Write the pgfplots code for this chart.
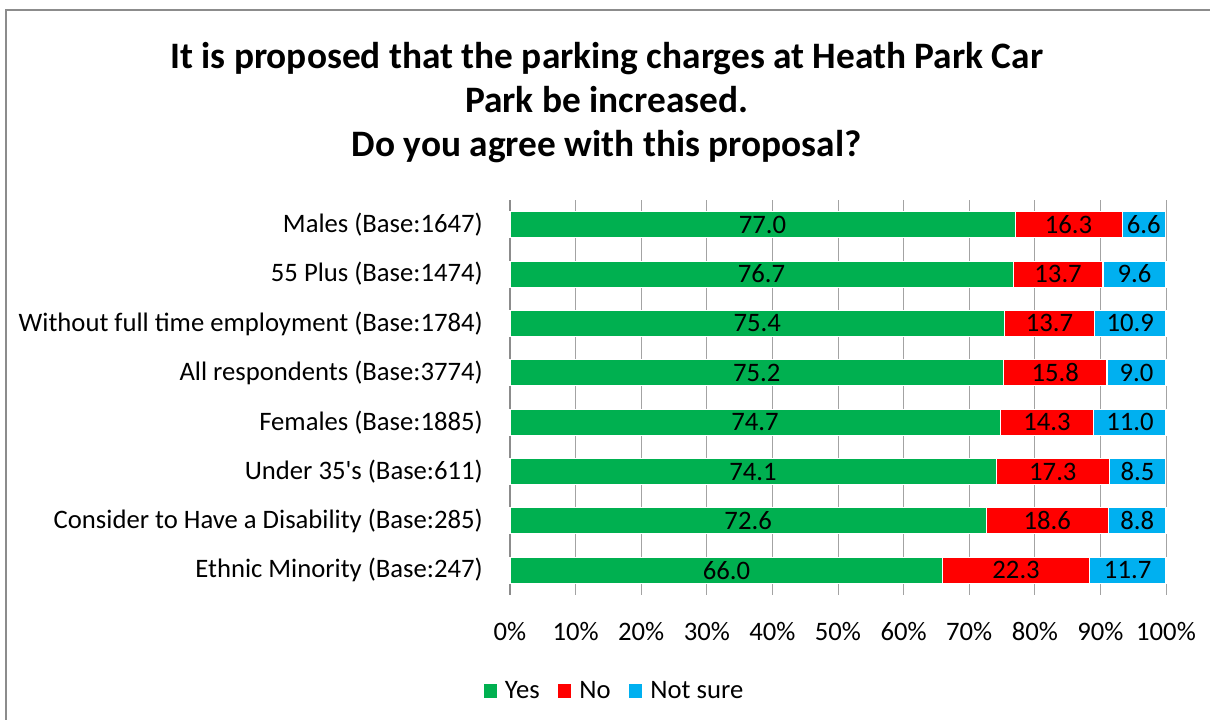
\documentclass[border=0pt]{standalone}
\usepackage{fontspec}
\setmainfont{Carlito}
\usepackage{pgfplots}
\usepackage{pgfplotstable}
\pgfplotsset{compat=1.18}
\definecolor{cYes}{HTML}{00B050}
\definecolor{cNo}{HTML}{FF0000}
\definecolor{cNS}{HTML}{00B0F0}
\definecolor{frame}{HTML}{8C8C8C}
\pgfplotstableread{
y g r b
0 77.0 16.3 6.6
1 76.7 13.7 9.6
2 75.4 13.7 10.9
3 75.2 15.8 9.0
4 74.7 14.3 11.0
5 74.1 17.3 8.5
6 72.6 18.6 8.8
7 66.0 22.3 11.7
}\datatable
\tikzset{lbl/.style={font=\fontsize{20}{22}\selectfont}}
\pgfplotsset{
  geom/.style={
    at={(382.5pt,93.75pt)}, anchor=south west,
    width=492pt, height=296.25pt, scale only axis,
    xmin=0, xmax=100, ymin=-0.5, ymax=7.5, y dir=reverse,
  },
}
\begin{document}
\begin{tikzpicture}
\useasboundingbox (0pt,0pt) rectangle (907.5pt,540pt);
\draw[frame, line width=1pt] (4.5pt,-2pt) -- (4.5pt,532.5pt) -- (910pt,532.5pt);
\node[align=center, font=\bfseries\fontsize{28}{33}\selectfont] at (455pt,463pt)
  {It is proposed that the parking charges at Heath Park Car\\Park be increased.\\Do you agree with this proposal?};
\begin{axis}[
  geom,
  xbar stacked, bar width=19.5pt,
  xtick={0,10,...,100},
  xticklabel={\pgfmathprintnumber[assume math mode=true]{\tick}\%},
  ytick={0,...,7},
  yticklabels={Males (Base:1647),55 Plus (Base:1474),Without full time employment (Base:1784),All respondents (Base:3774),Females (Base:1885),Under 35\textquotesingle s (Base:611),Consider to Have a Disability (Base:285),Ethnic Minority (Base:247)},
  major tick length=0pt,
  xmajorgrids, major grid style={frame!80, line width=0.75pt},
  axis x line*=bottom, x axis line style={draw=none},
  axis y line*=left, y axis line style={frame, line width=1pt},
  tick label style={lbl},
  xticklabel style={anchor=center, yshift=-27.75pt},
  yticklabel style={anchor=east, inner sep=0pt, xshift=-20.25pt},
  every axis plot/.append style={draw=white, line width=0.8pt},
  legend style={at={(0.160,-0.243)}, anchor=center, draw=none, legend columns=3,
    lbl,
    /tikz/every odd column/.append style={column sep=4pt},
    /tikz/every even column/.append style={column sep=12pt}},
  legend image code/.code={\fill[#1, draw=none] (0pt,-4.9pt) rectangle (9.75pt,4.9pt);},
  clip=false,
]
\addplot[fill=cYes] table[x=g, y=y] {\datatable};
\addplot[fill=cNo] table[x=r, y=y] {\datatable};
\addplot[fill=cNS] table[x=b, y=y] {\datatable};
\legend{Yes,No,Not sure}
\end{axis}
\begin{axis}[
  geom, hide axis, clip=false,
  nodes near coords={\pgfmathprintnumber[fixed,fixed zerofill,precision=1,assume math mode=true]{\pgfplotspointmeta}},
  every node near coord/.append style={lbl, anchor=center, black, inner sep=0pt},
  point meta=explicit,
]
\addplot[only marks, mark=none] table[x expr=\thisrow{g}/2, y=y, meta=g] {\datatable};
\addplot[only marks, mark=none] table[x expr=\thisrow{g}+\thisrow{r}/2, y=y, meta=r] {\datatable};
\addplot[only marks, mark=none] table[x expr=\thisrow{g}+\thisrow{r}+\thisrow{b}/2, y=y, meta=b] {\datatable};
\end{axis}
\end{tikzpicture}
\end{document}
